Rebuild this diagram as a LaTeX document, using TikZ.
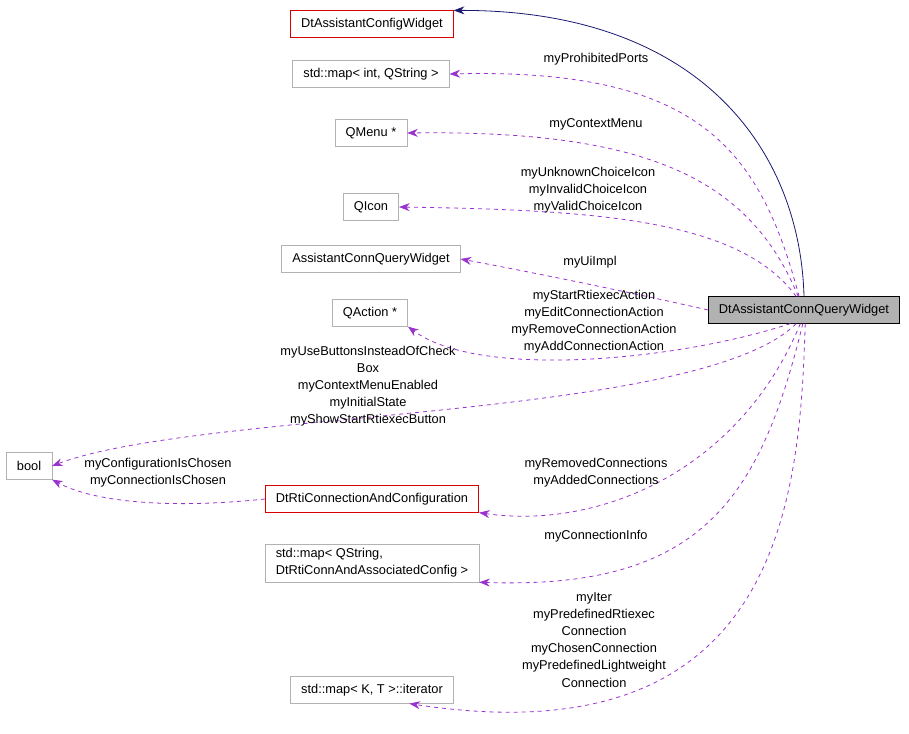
\documentclass[tikz,border=0pt]{standalone}
\usepackage{fontspec}
\setmainfont{Liberation Sans}
\usetikzlibrary{arrows.meta}
\definecolor{usecol}{RGB}{154,50,205}
\definecolor{inhcol}{RGB}{25,25,112}

\begin{document}
\begin{tikzpicture}[x=0.75pt,y=-0.75pt,
  every node/.style={font=\fontsize{9.6}{12.8}\selectfont},
  box/.style={rectangle,draw=black!30,fill=white,minimum height=20pt,inner xsep=8pt,align=left},
  redbox/.style={box,draw=red!85!black},
  lbl/.style={align=center,inner sep=0pt},
  use/.style={dashed,semithick,draw=usecol,-{Stealth[length=8pt,width=6pt]}},
  inh/.style={semithick,draw=inhcol,-{Stealth[length=8pt,width=6pt]}}]
  \useasboundingbox (0,0) rectangle (909,734);

  \node (q) [box,draw=black,fill=black!30] at (804,310) {DtAssistantConnQueryWidget};

  \node (cfg) [redbox] at (372,24) {DtAssistantConfigWidget};
  \node (pmap) [box] at (371,74) {std::map< int, QString >};
  \node (menu) [box] at (371,133) {QMenu *};
  \node (icon) [box] at (371,207) {QIcon};
  \node (acqw) [box] at (371,259) {AssistantConnQueryWidget};
  \node (act) [box] at (370,313) {QAction *};
  \node (bool) [box] at (29,466) {bool};
  \node (rti) [redbox] at (372,499) {DtRtiConnectionAndConfiguration};
  \node (cmap) [box] at (372,563) {std::map< QString,\\ DtRtiConnAndAssociatedConfig >};
  \node (iter) [box] at (372,690) {std::map< K, T >::iterator};

  \draw[inh] (q.north) .. controls (800,150) and (700,10) .. (cfg.north east);

  \draw[use] (q.110) .. controls (760,150) and (700,68) .. (pmap.east);
  \node (l1) [lbl] at (596,59) {myProhibitedPorts};
  \draw[use] (q.113) .. controls (750,180) and (650,130) .. (menu.east);
  \node (l2) [lbl] at (596,124) {myContextMenu};
  \draw[use] (q.120) .. controls (740,220) and (600,210) .. (icon.east);
  \node (l3) [lbl] at (588,190) {myUnknownChoiceIcon\\myInvalidChoiceIcon\\myValidChoiceIcon};
  \draw[use] (q.west) .. controls (620,290) and (520,270) .. (acqw.east);
  \node (l4) [lbl] at (590,262) {myUiImpl};
  \draw[use] (q.225) .. controls (680,360) and (480,380) .. (act.south east);
  \node (l5) [lbl] at (594,322) {myStartRtiexecAction\\myEditConnectionAction\\myRemoveConnectionAction\\myAddConnectionAction};
  \draw[use] (q.240) .. controls (700,420) and (200,410) .. (bool.east);
  \node (l6) [lbl] at (368,386) {myUseButtonsInsteadOfCheck\\Box\\myContextMenuEnabled\\myInitialState\\myShowStartRtiexecButton};
  \draw[use] (rti.west) .. controls (160,510) and (90,500) .. (bool.south east);
  \node (l7) [lbl] at (158,473) {myConfigurationIsChosen\\myConnectionIsChosen};
  \draw[use] (q.255) .. controls (740,470) and (600,530) .. (rti.south east);
  \node (l8) [lbl] at (596,473) {myRemovedConnections\\myAddedConnections};
  \draw[use] (q.265) .. controls (760,500) and (700,590) .. (cmap.south east);
  \node (l9) [lbl] at (596,536) {myConnectionInfo};
  \draw[use] (q.275) .. controls (800,500) and (780,760) .. (iter.-20);
  \node (l10) [lbl] at (594,640) {myIter\\myPredefinedRtiexec\\Connection\\myChosenConnection\\myPredefinedLightweight\\Connection};
\end{tikzpicture}
\end{document}
